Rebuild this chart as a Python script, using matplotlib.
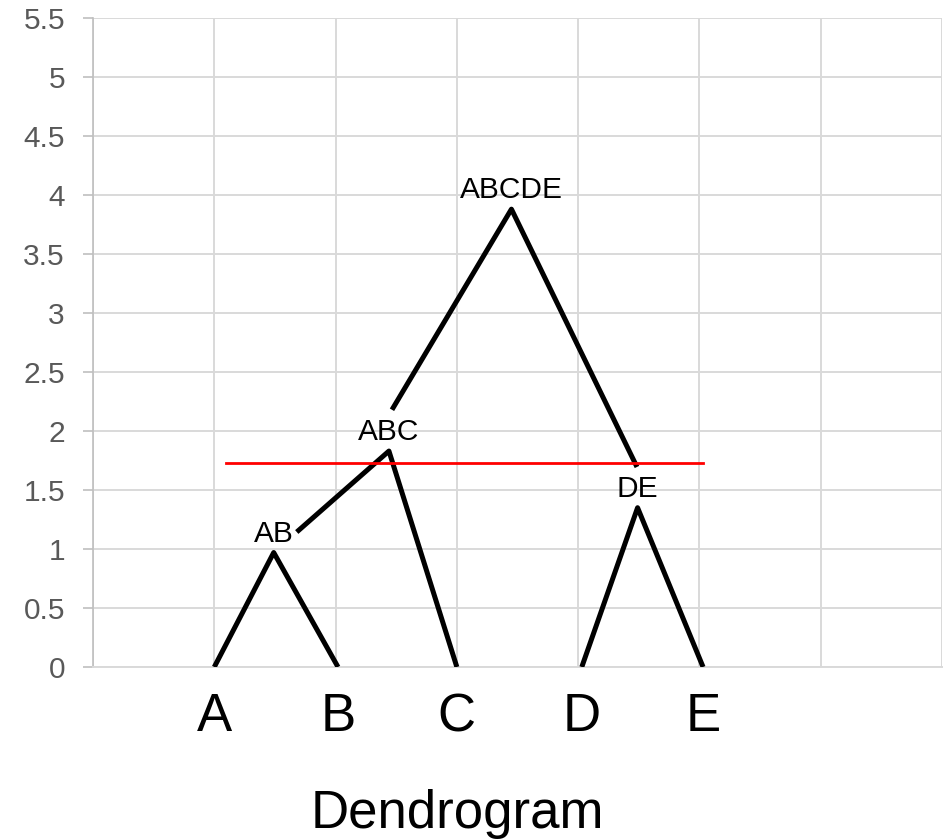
import matplotlib.pyplot as plt
import matplotlib.transforms as mtransforms

plt.rcParams["font.family"] = ["Liberation Sans", "DejaVu Sans"]

# leaves
leaf_names = ["A", "B", "C", "D", "E"]
leaf_x = [1.0, 2.02, 3.0, 4.03, 5.03]

# branches, each drawn as one polyline (start, peak, end)
branch_x = [
    [1.0, 1.49, 2.02],
    [1.68, 2.44, 3.0],
    [2.465, 3.45, 4.485],
    [4.03, 4.49, 5.03],
]
branch_y = [
    [0.0, 0.97, 0.0],
    [1.144, 1.83, 0.0],
    [2.18, 3.88, 1.695],
    [0.0, 1.35, 0.0],
]

# cluster labels sit above the peak of each branch
cluster_names = ["AB", "ABC", "ABCDE", "DE"]

# cut line
cut_x = [1.10, 5.03]
cut_y = 1.73

y_ticks = [0, 0.5, 1, 1.5, 2, 2.5, 3, 3.5, 4, 4.5, 5, 5.5]

fig = plt.figure(figsize=(9.43, 8.4), dpi=100)
ax = fig.add_axes([93 / 943, 173 / 840, 849 / 943, 649 / 840])

for bx, by, name in zip(branch_x, branch_y, cluster_names):
    ax.plot(bx, by, color="black", lw=3.6, solid_capstyle="butt", zorder=3)
    ax.annotate(name, (bx[1], by[1]), xytext=(0, 13.7), textcoords="offset points",
                ha="center", va="center", fontsize=21.5, color="black", zorder=4)

ax.plot(cut_x, [cut_y, cut_y], color="#ff0000", lw=2, zorder=3)

ax.set_xlim(0, 7)
ax.set_ylim(0, 5.5)

ax.set_xticks(range(8))
ax.set_xticklabels([])
ax.tick_params(axis="x", length=0)

# leaf names under the axis
trans = mtransforms.blended_transform_factory(ax.transData, ax.transAxes)
for lx, name in zip(leaf_x, leaf_names):
    ax.text(lx, -64 / 649, name, transform=trans, ha="center", va="baseline",
            fontsize=38, color="black")

ax.set_yticks(y_ticks)
ax.set_yticklabels([f"{v:g}" for v in y_ticks])
ax.tick_params(axis="y", length=7.2, width=1.2, color="#bfbfbf",
               labelsize=21.5, labelcolor="#595959", pad=13)

ax.grid(True, which="major", color="#d9d9d9", lw=1.4)
ax.set_axisbelow(True)
for side in ["top", "right"]:
    ax.spines[side].set_visible(False)
ax.spines["left"].set_color("#bfbfbf")
ax.spines["left"].set_linewidth(1.2)
ax.spines["bottom"].set_color("#d9d9d9")
ax.spines["bottom"].set_linewidth(1.4)

fig.text(457 / 943, 12 / 840, "Dendrogram", ha="center", va="baseline",
         fontsize=38, color="black")

fig.savefig("out.png", dpi=100)
